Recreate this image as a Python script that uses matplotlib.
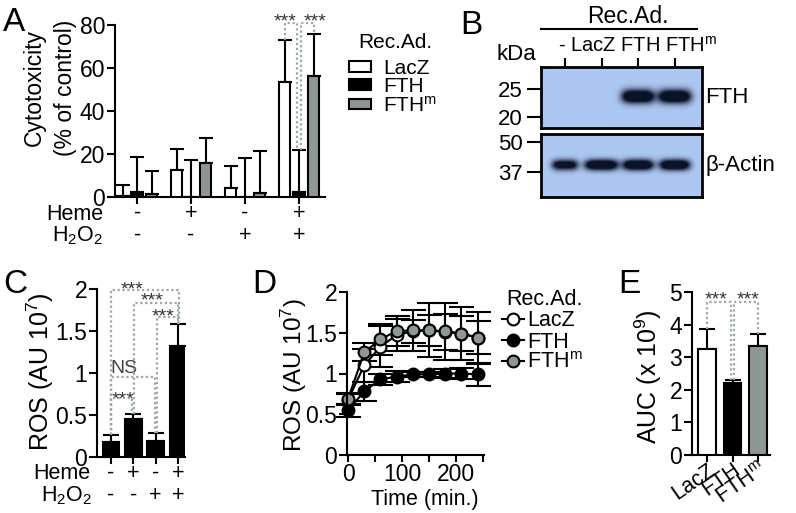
import numpy as np
import matplotlib
matplotlib.use('Agg')
import matplotlib.pyplot as plt
from matplotlib.patches import Patch
from matplotlib.lines import Line2D

plt.rcParams['font.family'] = ['Liberation Sans', 'DejaVu Sans']
plt.rcParams['mathtext.fontset'] = 'custom'
plt.rcParams['mathtext.rm'] = 'Liberation Sans'
plt.rcParams['mathtext.it'] = 'Liberation Sans:italic'
plt.rcParams['mathtext.bf'] = 'Liberation Sans:bold'
plt.rcParams['font.size'] = 15
plt.rcParams['axes.linewidth'] = 1.5

# ---------------- data ----------------
# Panel A
heme = ['-', '+', '-', '+']
h2o2 = ['-', '-', '+', '+']
recad = ['LacZ', 'FTH', 'FTH$^{\\mathregular{m}}$']
cyto_lacz = [0.3, 12.5, 4.0, 53.5]
cyto_lacz_sd = [5.2, 10.0, 10.4, 19.5]
cyto_fth = [2.5, 0.0, 0.0, 2.5]
cyto_fth_sd = [16.0, 17.0, 18.1, 19.5]
cyto_fthm = [1.5, 16.0, 2.0, 56.5]
cyto_fthm_sd = [10.5, 11.5, 19.4, 19.5]

# Panel B (western blot band intensities)
blot_lanes = ['-', 'LacZ', 'FTH', 'FTH$^{\\mathregular{m}}$']
fth_band = [0.0, 0.0, 1.0, 1.0]
actin_band = [0.8, 1.0, 1.0, 1.0]
actin_width = [0.36, 0.46, 0.42, 0.42]
kda_top = ['25', '20']
kda_top_pos = [0.36, 0.82]
kda_bottom = ['50', '37']
kda_bottom_pos = [0.13, 0.60]

# Panel C
ros_heme = ['-', '+', '-', '+']
ros_h2o2 = ['-', '-', '+', '+']
ros = [0.18, 0.45, 0.19, 1.32]
ros_sd = [0.08, 0.06, 0.09, 0.26]

# Panel D
time_min = [0, 30, 60, 90, 120, 150, 180, 210, 240]
ros_lacz = [0.68, 1.10, 1.33, 1.47, 1.52, 1.53, 1.51, 1.49, 1.44]
ros_lacz_sd = [0.07, 0.20, 0.25, 0.20, 0.14, 0.19, 0.22, 0.21, 0.20]
ros_fth = [0.55, 0.78, 0.93, 0.96, 0.99, 0.99, 1.00, 1.00, 0.99]
ros_fth_sd = [0.08, 0.12, 0.07, 0.07, 0.03, 0.03, 0.05, 0.07, 0.14]
ros_fthm = [0.69, 1.26, 1.42, 1.52, 1.53, 1.53, 1.52, 1.49, 1.44]
ros_fthm_sd = [0.07, 0.11, 0.19, 0.18, 0.25, 0.33, 0.35, 0.33, 0.32]

# Panel E
auc_groups = ['LacZ', 'FTH', 'FTH$^{\\mathregular{m}}$']
auc = [3.25, 2.2, 3.35]
auc_sd = [0.63, 0.1, 0.35]

# ---------------- style ----------------
GREY = '#8e9794'
DOT = '#9ea6aa'
STAR = '#333333'
TICK_FS = 16.5
W, H = 796, 513
fig = plt.figure(figsize=(W / 100, H / 100), dpi=100)


def px_axes(l, t, r, b):
    return fig.add_axes([l / W, 1 - b / H, (r - l) / W, (b - t) / H])


def style(ax):
    for s in ['top', 'right']:
        ax.spines[s].set_visible(False)
    for s in ['left', 'bottom']:
        ax.spines[s].set_linewidth(1.5)
    ax.tick_params(direction='out', width=1.5, length=6, pad=1, labelsize=TICK_FS)


def bracket(ax, x1, x2, y1, y2, h, dx1=0.0, dx2=0.0):
    ax.plot([x1 + dx1, x1 + dx1, x2 + dx2, x2 + dx2], [y1, h, h, y2],
            ls=(0, (1, 1.2)), color=DOT, lw=1.6, clip_on=False, zorder=5)


def letter(x, y, s):
    fig.text(x / W, 1 - y / H, s, fontsize=24, ha='left', va='baseline')


# ---------------- Panel A ----------------
axA = px_axes(115, 25, 325, 197)
style(axA)
xg = np.arange(len(heme))
off, bw = 0.27, 0.21
series = [(cyto_lacz, cyto_lacz_sd, 'white', -off),
          (cyto_fth, cyto_fth_sd, 'black', 0.0),
          (cyto_fthm, cyto_fthm_sd, GREY, off)]
for vals, sd, col, o in series:
    axA.bar(xg + o, vals, bw, color=col, edgecolor='black', linewidth=1.5, zorder=3)
    axA.errorbar(xg + o, vals, yerr=[np.zeros(len(sd)), sd], fmt='none', ecolor='black',
                 elinewidth=1.5, capsize=5, capthick=1.5, zorder=2)
axA.set_ylim(0, 80)
axA.set_yticks([0, 20, 40, 60, 80])
axA.set_xlim(-0.41, 3.48)
axA.set_xticks(xg)
axA.set_xticklabels([''] * len(xg))
axA.tick_params(axis='x', length=5)
for i in range(len(xg)):
    axA.text(xg[i], -0.128, heme[i], transform=axA.get_xaxis_transform(), ha='center', va='baseline', fontsize=15.5)
    axA.text(xg[i], -0.256, h2o2[i], transform=axA.get_xaxis_transform(), ha='center', va='baseline', fontsize=15.5)
axA.text(-0.057, -0.133, 'Heme', transform=axA.transAxes, ha='right', va='baseline', fontsize=15.5)
axA.text(-0.057, -0.256, 'H$_{\\mathregular{2}}$O$_{\\mathregular{2}}$', transform=axA.transAxes, ha='right',
         va='baseline', fontsize=15.5)
fig.text(50 / W, 1 - 88 / H, 'Cytotoxicity\n(% of control)', rotation=90, ha='center', va='center',
         linespacing=1.45, fontsize=16.5)
top4 = [cyto_lacz[3] + cyto_lacz_sd[3], cyto_fth[3] + cyto_fth_sd[3], cyto_fthm[3] + cyto_fthm_sd[3]]
bracket(axA, 3 - off, 3, top4[0], top4[1], 81, 0, -0.04)
bracket(axA, 3, 3 + off, top4[1], top4[2], 81, 0.04, 0)
axA.text(2.75, 79.1, '***', ha='center', va='baseline', fontsize=14, color=STAR, clip_on=False)
axA.text(3.29, 79.1, '***', ha='center', va='baseline', fontsize=14, color=STAR, clip_on=False)
fig.text(358 / W, 1 - 48 / H, 'Rec.Ad.', ha='left', va='baseline', fontsize=15)
handlesA = [Patch(facecolor=c, edgecolor='black', linewidth=1.5) for c in ['white', 'black', GREY]]
fig.legend(handlesA, recad, loc='center left', bbox_to_anchor=(349 / W, 1 - 87 / H), frameon=False,
           fontsize=15, handlelength=1.05, handleheight=0.42, handletextpad=0.58,
           labelspacing=-0.03, borderpad=0, borderaxespad=0)
letter(3, 31, 'A')

# ---------------- Panel B ----------------
xl = (-0.65, 3.74)


def blot_image(intensity, widths, band_y, band_h, nx=330, ny=130):
    xs = np.linspace(xl[0], xl[1], nx)
    ys = np.linspace(0, 1, ny)
    X, Y = np.meshgrid(xs, ys)
    a = np.zeros_like(X)
    for i, (inten, bwid) in enumerate(zip(intensity, widths)):
        a += inten * np.exp(-((X - i) / bwid) ** 4) * np.exp(-((Y - band_y) / band_h) ** 2)
    a = np.clip(1.6 * a, 0, 1)
    bg = np.array([174, 200, 244]) / 255
    dark = np.array([10, 18, 40]) / 255
    return bg[None, None, :] * (1 - a[..., None]) + dark[None, None, :] * a[..., None]


axB1 = px_axes(541, 67, 702, 128)
axB2 = px_axes(541, 134, 702, 197)
axB1.imshow(blot_image(fth_band, [0.45] * 4, 0.49, 0.11), extent=(xl[0], xl[1], 1, 0), aspect='auto')
axB2.imshow(blot_image(actin_band, actin_width, 0.49, 0.085), extent=(xl[0], xl[1], 1, 0), aspect='auto')
for ax, labs, pos in [(axB1, kda_top, kda_top_pos), (axB2, kda_bottom, kda_bottom_pos)]:
    ax.set_xlim(*xl)
    ax.set_ylim(1, 0)
    for s in ax.spines.values():
        s.set_linewidth(2)
    ax.set_yticks(pos)
    ax.set_yticklabels(labs)
    ax.tick_params(axis='y', direction='out', length=10, width=1.5, pad=3, labelsize=16)
    ax.set_xticks([])
axB1.set_xticks(range(len(blot_lanes)))
axB1.set_xticklabels([''] * len(blot_lanes))
axB1.tick_params(axis='x', top=True, labeltop=False, bottom=False, labelbottom=False,
                 direction='out', length=6.5, width=1.5)
axB1.text(0.603, 1.246, ' '.join(blot_lanes), transform=axB1.transAxes,
          ha='center', va='baseline', fontsize=14.5)
axB1.plot([0, 0.97], [1.62, 1.62], transform=axB1.transAxes, color='black', lw=1.5, clip_on=False)
axB1.text(0.54, 1.72, 'Rec.Ad.', transform=axB1.transAxes, ha='center', va='baseline', fontsize=16.5)
axB1.text(-0.155, 1.115, 'kDa', transform=axB1.transAxes, ha='center', va='baseline', fontsize=16)
axB1.text(1.02, 0.5, 'FTH', transform=axB1.transAxes, ha='left', va='center', fontsize=16)
axB2.text(1.02, 0.5, '\u03b2-Actin', transform=axB2.transAxes, ha='left', va='center', fontsize=16)
letter(460, 34, 'B')

# ---------------- Panel C ----------------
axC = px_axes(97, 289, 185, 457)
style(axC)
xc = np.arange(len(ros))
axC.bar(xc, ros, 0.75, color='black', edgecolor='black', linewidth=1.5, zorder=3)
axC.errorbar(xc, ros, yerr=[np.zeros(len(ros_sd)), ros_sd], fmt='none', ecolor='black',
             elinewidth=1.5, capsize=6, capthick=1.5, zorder=2)
axC.set_ylim(0, 2)
axC.set_yticks([0, 0.5, 1, 1.5, 2])
axC.set_yticklabels(['0', '0.5', '1', '1.5', '2'])
axC.set_xlim(-0.63, 3.32)
axC.set_xticks(xc)
axC.set_xticklabels([''] * len(xc))
axC.tick_params(axis='x', length=5)
for i in range(len(xc)):
    axC.text(xc[i], -0.128, ros_heme[i], transform=axC.get_xaxis_transform(), ha='center', va='baseline', fontsize=15.5)
    axC.text(xc[i], -0.262, ros_h2o2[i], transform=axC.get_xaxis_transform(), ha='center', va='baseline', fontsize=15.5)
axC.text(-0.07, -0.133, 'Heme', transform=axC.transAxes, ha='right', va='baseline', fontsize=15.5)
axC.text(-0.05, -0.262, 'H$_{\\mathregular{2}}$O$_{\\mathregular{2}}$', transform=axC.transAxes, ha='right',
         va='baseline', fontsize=15.5)
fig.text(40 / W, 1 - 372 / H, 'ROS (AU 10$^{\\mathregular{7}}$)', rotation=90, ha='center', va='center',
         fontsize=18)
topC = [r + s for r, s in zip(ros, ros_sd)]
bracket(axC, 0, 3, topC[0], topC[3], 1.99, 0, 0.05)
bracket(axC, 1, 3, topC[1], topC[3], 1.83, 0.04, 0.02)
bracket(axC, 2, 3, topC[2], topC[3], 1.67, 0.06, 0.0)
bracket(axC, 0, 2, topC[0], topC[2], 0.95, 0.0, -0.04)
bracket(axC, 0, 1, topC[0], topC[1], 0.70, 0.0, -0.04)
axC.text(0.95, 1.94, '***', ha='center', va='baseline', fontsize=14, color=STAR, clip_on=False)
axC.text(1.83, 1.80, '***', ha='center', va='baseline', fontsize=14, color=STAR, clip_on=False)
axC.text(2.35, 1.61, '***', ha='center', va='baseline', fontsize=14, color=STAR, clip_on=False)
axC.text(0.58, 1.00, 'NS', ha='center', va='baseline', fontsize=14, color='#444444')
axC.text(0.52, 0.63, '***', ha='center', va='baseline', fontsize=14, color=STAR)
letter(3, 293, 'C')

# ---------------- Panel D ----------------
axD = px_axes(347, 292, 484, 455)
style(axD)
for vals, sd, fc in [(ros_fth, ros_fth_sd, 'black'), (ros_lacz, ros_lacz_sd, 'white'),
                     (ros_fthm, ros_fthm_sd, GREY)]:
    axD.errorbar(time_min, vals, yerr=sd, color='black', lw=1.5, marker='o', markersize=8.5,
                 markerfacecolor=fc, markeredgecolor='black', markeredgewidth=1.5,
                 ecolor='black', elinewidth=1.5, capsize=9, capthick=1.5, clip_on=False)
axD.set_ylim(0, 2)
axD.set_yticks([0, 0.5, 1, 1.5, 2])
axD.set_yticklabels(['0', '0.5', '1', '1.5', '2'])
axD.set_xlim(-2, 252)
axD.set_xticks([0, 50, 100, 150, 200, 250])
axD.set_xticklabels(['0', '', '100', '', '200', ''])
axD.tick_params(axis='x', length=5)
axD.text((425 - 347) / 137, -0.307, 'Time (min.)', transform=axD.transAxes, ha='center', va='baseline',
         fontsize=15.5)
fig.text(294 / W, 1 - 375 / H, 'ROS (AU 10$^{\\mathregular{7}}$)', rotation=90, ha='center', va='center',
         fontsize=17.5)
fig.text(506 / W, 1 - 305 / H, 'Rec.Ad.', ha='left', va='baseline', fontsize=15.5)
handlesD = [Line2D([], [], color='black', lw=1.5, marker='o', markersize=8.5, markerfacecolor=fc,
                   markeredgecolor='black', markeredgewidth=1.5) for fc in ['white', 'black', GREY]]
fig.legend(handlesD, recad, loc='center left', bbox_to_anchor=(502 / W, 1 - 342 / H), frameon=False,
           fontsize=15.5, handlelength=1.0, handletextpad=0.15, labelspacing=0.0, borderpad=0,
           borderaxespad=0)
letter(252, 293, 'D')

# ---------------- Panel E ----------------
axE = px_axes(692, 292, 770, 455)
style(axE)
xe = np.arange(len(auc))
axE.bar(xe, auc, 0.7, color=['white', 'black', GREY], edgecolor='black', linewidth=1.5, zorder=3)
axE.errorbar(xe, auc, yerr=[np.zeros(len(auc_sd)), auc_sd], fmt='none', ecolor='black',
             elinewidth=1.5, capsize=6, capthick=1.5, zorder=2)
axE.set_ylim(0, 5)
axE.set_yticks(range(6))
axE.set_xlim(-0.59, 2.47)
axE.set_xticks(xe)
axE.set_xticklabels(auc_groups, rotation=35, ha='right', va='top', rotation_mode='anchor', fontsize=15.5)
axE.tick_params(axis='x', length=5, pad=-2)
fig.text(648 / W, 1 - 377 / H, 'AUC (x 10$^{\\mathregular{9}}$)', rotation=90, ha='center', va='center',
         fontsize=18)
topE = [a + s for a, s in zip(auc, auc_sd)]
bracket(axE, 0, 1, topE[0], topE[1], 4.69, 0, -0.06)
bracket(axE, 1, 2, topE[1], topE[2], 4.69, 0.06, 0)
axE.text(0.35, 4.63, '***', ha='center', va='baseline', fontsize=14, color=STAR, clip_on=False)
axE.text(1.60, 4.63, '***', ha='center', va='baseline', fontsize=14, color=STAR, clip_on=False)
letter(618, 293, 'E')

fig.savefig('out.png', dpi=100)
